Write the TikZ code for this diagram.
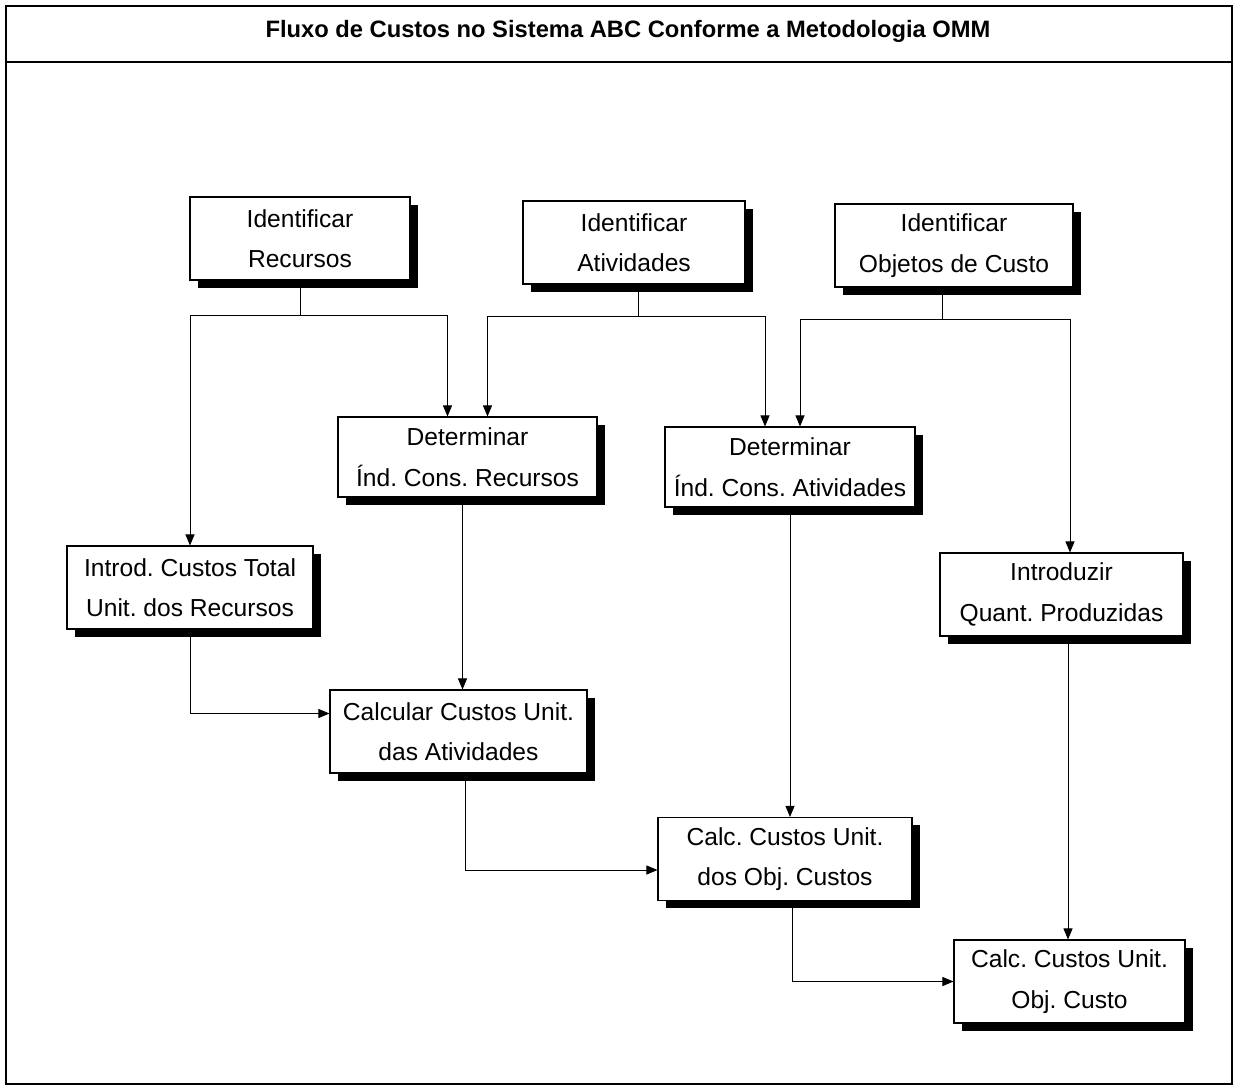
\documentclass[tikz,border=0pt]{standalone}
\usepackage{fontspec}
\setmainfont{Liberation Sans}
\usetikzlibrary{arrows.meta,shadows}
\frenchspacing

\begin{document}
\begin{tikzpicture}[
  stepbox/.style={draw, line width=0.6pt, fill=white, align=center, minimum height=1.66cm,
    font=\fontsize{14}{23}\selectfont,
    drop shadow={shadow xshift=4.5pt, shadow yshift=-4.5pt, fill=black, opacity=1}},
  link/.style={line width=0.5pt},
  arr/.style={link, -{Triangle[length=2.2mm,width=1.8mm]}}
]
\useasboundingbox (0,0) rectangle (24.8,-21.76);
% moldura e titulo
\draw[line width=0.9pt] (0.12,-0.12) rectangle (24.64,-21.68);
\draw[line width=0.9pt] (0.12,-1.24) -- (24.64,-1.24);
\node[font=\fontsize{13.5}{16}\selectfont\bfseries] (titulo) at (12.56,-0.62) {Fluxo de Custos no Sistema ABC Conforme a Metodologia OMM};

% caixas
\node[stepbox, minimum width=4.4cm] (idrec) at (6.0,-4.77) {Identificar\\Recursos};
\node[stepbox, minimum width=4.44cm] (idativ) at (12.68,-4.85) {Identificar\\Atividades};
\node[stepbox, minimum width=4.76cm] (idobj) at (19.08,-4.91) {Identificar\\Objetos de Custo};
\node[stepbox, minimum width=5.18cm, minimum height=1.6cm] (detrec) at (9.35,-9.14) {Determinar\\Índ. Cons. Recursos};
\node[stepbox, minimum width=5.0cm, minimum height=1.6cm] (detativ) at (15.8,-9.34) {Determinar\\Índ. Cons. Atividades};
\node[stepbox, minimum width=4.92cm] (introd) at (3.8,-11.75) {Introd. Custos Total\\Unit. dos Recursos};
\node[stepbox, minimum width=4.86cm] (quant) at (21.23,-11.89) {Introduzir\\Quant. Produzidas};
\node[stepbox, minimum width=5.14cm] (calcativ) at (9.17,-14.63) {Calcular Custos Unit.\\das Atividades};
\node[stepbox, minimum width=5.08cm] (calcobj) at (15.7,-17.18) {Calc. Custos Unit.\\dos Obj. Custos};
\node[stepbox, minimum width=4.62cm] (calcunit) at (21.39,-19.63) {Calc. Custos Unit.\\Obj. Custo};

% ligacoes
\draw[link] (idrec.south) -- ++(0,-0.7cm) coordinate (jrec);
\draw[arr] (jrec) -| (introd.north);
\draw[arr] (jrec) -| ([xshift=-0.4cm]detrec.north);
\draw[link] ([xshift=0.08cm]idativ.south) -- ++(0,-0.64cm) coordinate (jativ);
\draw[arr] (jativ) -| ([xshift=0.4cm]detrec.north);
\draw[arr] (jativ) -| ([xshift=-0.5cm]detativ.north);
\draw[link] ([xshift=-0.24cm]idobj.south) -- ++(0,-0.64cm) coordinate (jobj);
\draw[arr] (jobj) -| ([xshift=0.2cm]detativ.north);
\draw[arr] (jobj) -| ([xshift=0.17cm]quant.north);
\draw[arr] ([xshift=-0.1cm]detrec.south) -- ([xshift=-0.1cm]detrec.south |- calcativ.north);
\draw[arr] (detativ.south) -- (detativ.south |- calcobj.north);
\draw[arr] ([xshift=0.13cm]quant.south) -- ([xshift=0.13cm]quant.south |- calcunit.north);
\draw[arr] (introd.south) |- ([yshift=0.36cm]calcativ.west);
\draw[arr] ([xshift=0.13cm]calcativ.south) |- ([yshift=-0.22cm]calcobj.west);
\draw[arr] ([xshift=0.14cm]calcobj.south) |- (calcunit.west);
\end{tikzpicture}
\end{document}
